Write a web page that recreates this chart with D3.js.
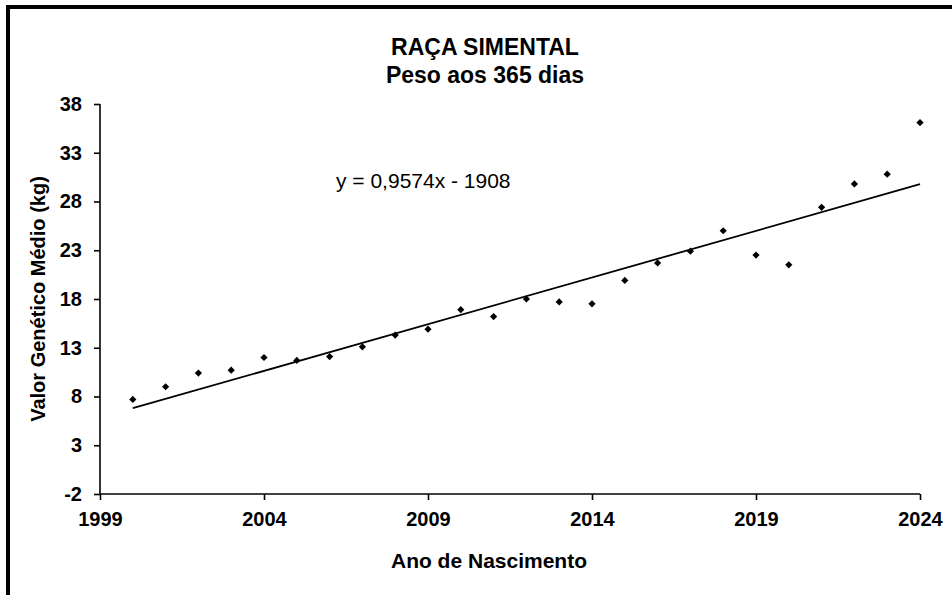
<!DOCTYPE html>
<html lang="pt">
<head>
<meta charset="UTF-8">
<title>Raça Simental - Peso aos 365 dias</title>
<script src="https://d3js.org/d3.v7.min.js"></script>
<style>
  body { margin: 0; background: #fff; }
  text { font-family: "Liberation Sans", Arial, sans-serif; fill: #000; }
</style>
</head>
<body>
<div id="chart"></div>
<script>
// Dados
const anos = [2000, 2001, 2002, 2003, 2004, 2005, 2006, 2007, 2008, 2009, 2010, 2011, 2012,
              2013, 2014, 2015, 2016, 2017, 2018, 2019, 2020, 2021, 2022, 2023, 2024];
const valores = [7.7, 9.0, 10.4, 10.7, 12.0, 11.7, 12.1, 13.1, 14.3, 14.9, 16.9, 16.2, 18.0,
                 17.7, 17.5, 19.9, 21.7, 22.9, 25.0, 22.5, 21.5, 27.4, 29.8, 30.8, 36.1];
const ticksX = [1999, 2004, 2009, 2014, 2019, 2024];
const ticksY = [-2, 3, 8, 13, 18, 23, 28, 33, 38];

// Linha de tendência (equação mostrada no gráfico)
const inclinacao = 0.9574;
const intercepto = -1908;
const equacao = 'y = 0,9574x - 1908';

const width = 952, height = 595;
const margin = { left: 100, right: 32, top: 104, bottom: 101 };

const svg = d3.select('#chart')
    .append('svg')
    .attr('width', width)
    .attr('height', height);

// Moldura
svg.append('rect')
    .attr('x', 8).attr('y', 7)
    .attr('width', width + 20).attr('height', height + 20)
    .attr('fill', 'none')
    .attr('stroke', '#000')
    .attr('stroke-width', 4);

const x = d3.scaleLinear()
    .domain([1999, 2024])
    .range([margin.left, width - margin.right]);

const y = d3.scaleLinear()
    .domain([-2, 38])
    .range([height - margin.bottom, margin.top]);

// Eixo X
const gx = svg.append('g')
    .attr('transform', `translate(0,${y(-2)})`)
    .call(d3.axisBottom(x).tickValues(ticksX).tickFormat(d => String(d)).tickSize(6).tickPadding(12));

// Eixo Y
const gy = svg.append('g')
    .attr('transform', `translate(${x(1999)},0)`)
    .call(d3.axisLeft(y).tickValues(ticksY).tickFormat(d => String(d)).tickSize(6).tickPadding(12));

[gx, gy].forEach(g => {
    g.select('.domain').attr('stroke', '#000').attr('stroke-width', 1.6);
    g.selectAll('.tick line').attr('stroke', '#000').attr('stroke-width', 1.6);
    g.selectAll('.tick text')
        .attr('font-family', '"Liberation Sans", Arial, sans-serif')
        .attr('font-size', 20)
        .attr('font-weight', 'bold')
        .attr('fill', '#000');
});
gx.select('.domain').attr('d', `M${x(1999)},0H${x(2024)}`);
gy.select('.domain').attr('d', `M0,${y(38)}V${y(-2)}`);

// Linha de tendência
const tendencia = d3.line()
    .x(d => x(d))
    .y(d => y(inclinacao * d + intercepto));

svg.append('path')
    .datum([anos[0], anos[anos.length - 1]])
    .attr('d', tendencia)
    .attr('fill', 'none')
    .attr('stroke', '#000')
    .attr('stroke-width', 1.8);

// Pontos (losangos)
const losango = d3.symbol().type(d3.symbolSquare).size(26);
svg.append('g')
    .selectAll('path')
    .data(anos.map((a, i) => ({ ano: a, valor: valores[i] })))
    .join('path')
    .attr('d', losango)
    .attr('transform', d => `translate(${x(d.ano)},${y(d.valor)}) rotate(45)`)
    .attr('fill', '#000');

// Equação
svg.append('text')
    .attr('x', 336).attr('y', 188)
    .attr('font-size', 21)
    .text(equacao);

// Títulos
svg.append('text')
    .attr('x', 485).attr('y', 55)
    .attr('text-anchor', 'middle')
    .attr('font-size', 23)
    .attr('font-weight', 'bold')
    .text('RAÇA SIMENTAL');

svg.append('text')
    .attr('x', 485).attr('y', 83)
    .attr('text-anchor', 'middle')
    .attr('font-size', 23)
    .attr('font-weight', 'bold')
    .text('Peso aos 365 dias');

svg.append('text')
    .attr('x', 489).attr('y', 568)
    .attr('text-anchor', 'middle')
    .attr('font-size', 21)
    .attr('font-weight', 'bold')
    .text('Ano de Nascimento');

svg.append('text')
    .attr('transform', `translate(45,${(y(38) + y(-2)) / 2}) rotate(-90)`)
    .attr('text-anchor', 'middle')
    .attr('font-size', 20)
    .attr('font-weight', 'bold')
    .text('Valor Genético Médio (kg)');
</script>
</body>
</html>
